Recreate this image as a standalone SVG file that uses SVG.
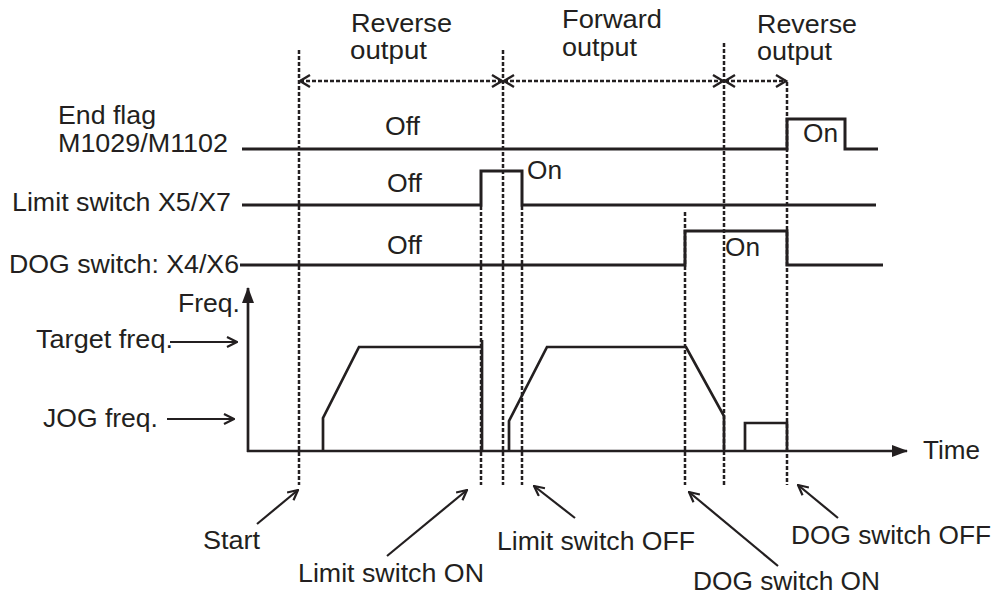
<svg xmlns="http://www.w3.org/2000/svg" width="996" height="598" viewBox="0 0 996 598">
<defs>
<style>
text{font-family:"Liberation Sans",Arial,sans-serif;font-size:25px;fill:#231f20}
.sig{fill:none;stroke:#231f20;stroke-width:3}
.frq{fill:none;stroke:#231f20;stroke-width:2.7;stroke-linejoin:miter}
.dot{fill:none;stroke:#231f20;stroke-width:2.5;stroke-dasharray:4 2}
.span{fill:none;stroke:#231f20;stroke-width:2.4;stroke-dasharray:4 2}
.hd{fill:none;stroke:#231f20;stroke-width:2.4}
.ptr{fill:none;stroke:#231f20;stroke-width:2.2}
</style>
<marker id="open" viewBox="0 0 12 12" refX="11" refY="6" markerWidth="12" markerHeight="12" markerUnits="userSpaceOnUse" orient="auto">
<path d="M1,1 L11,6 L1,11" fill="none" stroke="#231f20" stroke-width="2.2"/>
</marker>
<marker id="fill" viewBox="0 0 16 12" refX="15" refY="6" markerWidth="16" markerHeight="12" markerUnits="userSpaceOnUse" orient="auto">
<path d="M0,0 L16,6 L0,12 Z" fill="#231f20"/>
</marker>
</defs>
<g id="connectors">
<line class="dot" x1="299" y1="50" x2="299" y2="485"/>
<line class="dot" x1="481" y1="206" x2="481" y2="485"/>
<line class="dot" x1="503" y1="50" x2="503" y2="485"/>
<line class="dot" x1="522" y1="206" x2="522" y2="485"/>
<line class="dot" x1="685" y1="212" x2="685" y2="485"/>
<line class="dot" x1="724" y1="43" x2="724" y2="485"/>
<line class="dot" x1="787" y1="82" x2="787" y2="485"/>
<line class="span" x1="300" y1="81" x2="502" y2="81"/>
<path class="hd" d="M310,75 L300,81 L310,87 M492,75 L502,81 L492,87"/>
<line class="span" x1="504" y1="81" x2="723" y2="81"/>
<path class="hd" d="M514,75 L504,81 L514,87 M713,75 L723,81 L713,87"/>
<line class="span" x1="725" y1="81" x2="786" y2="81"/>
<path class="hd" d="M735,75 L725,81 L735,87 M776,75 L786,81 L776,87"/>
<path class="sig" d="M242,149 H787 V119 H845 V149 H878"/>
<path class="sig" d="M242,205 H481 V171 H522 V205 H876"/>
<path class="sig" d="M240,265 H685 V231 H787 V265 H883"/>
<line class="frq" x1="248" y1="452" x2="248" y2="288" marker-end="url(#fill)"/>
<line class="frq" x1="247" y1="451" x2="907" y2="451" marker-end="url(#fill)"/>
<path class="frq" d="M323,451 V418 L359,347 H482 M482,340 V451"/>
<path class="frq" d="M509,451 V421 L547,347 H686 L724,416 V451"/>
<path class="frq" d="M745,451 V423 H787 V451"/>
<line class="ptr" x1="170" y1="342" x2="237" y2="342" marker-end="url(#open)"/>
<line class="ptr" x1="167" y1="419" x2="234" y2="419" marker-end="url(#open)"/>
<line class="ptr" x1="257" y1="524" x2="298" y2="490" marker-end="url(#open)"/>
<line class="ptr" x1="387" y1="556" x2="467" y2="490" marker-end="url(#open)"/>
<line class="ptr" x1="575" y1="518" x2="534" y2="486" marker-end="url(#open)"/>
<line class="ptr" x1="778" y1="566" x2="689" y2="492" marker-end="url(#open)"/>
<line class="ptr" x1="838" y1="518" x2="798" y2="485" marker-end="url(#open)"/>
</g>
<g id="phase-labels">
<text x="351" y="32" textLength="101" lengthAdjust="spacingAndGlyphs">Reverse</text>
<text x="350" y="59" textLength="77" lengthAdjust="spacingAndGlyphs">output</text>
<text x="562" y="28" textLength="100" lengthAdjust="spacingAndGlyphs">Forward</text>
<text x="562" y="56" textLength="75" lengthAdjust="spacingAndGlyphs">output</text>
<text x="757" y="33" textLength="100" lengthAdjust="spacingAndGlyphs">Reverse</text>
<text x="757" y="60" textLength="75" lengthAdjust="spacingAndGlyphs">output</text>
</g>
<g id="signal-end-flag">
<text x="58" y="124" textLength="98" lengthAdjust="spacingAndGlyphs">End flag</text>
<text x="58" y="152" textLength="170" lengthAdjust="spacingAndGlyphs">M1029/M1102</text>
<text x="385" y="135" textLength="35" lengthAdjust="spacingAndGlyphs">Off</text>
<text x="803" y="142" textLength="35" lengthAdjust="spacingAndGlyphs">On</text>
</g>
<g id="signal-limit">
<text x="12" y="211" textLength="219" lengthAdjust="spacingAndGlyphs">Limit switch X5/X7</text>
<text x="387" y="192" textLength="35" lengthAdjust="spacingAndGlyphs">Off</text>
<text x="527" y="179" textLength="35" lengthAdjust="spacingAndGlyphs">On</text>
</g>
<g id="signal-dog">
<text x="9" y="273" textLength="230" lengthAdjust="spacingAndGlyphs">DOG switch: X4/X6</text>
<text x="387" y="254" textLength="35" lengthAdjust="spacingAndGlyphs">Off</text>
<text x="725" y="256" textLength="35" lengthAdjust="spacingAndGlyphs">On</text>
</g>
<g id="freq-graph">
<text x="178" y="312" textLength="62" lengthAdjust="spacingAndGlyphs">Freq.</text>
<text x="36" y="348" textLength="137" lengthAdjust="spacingAndGlyphs">Target freq.</text>
<text x="43" y="427" textLength="115" lengthAdjust="spacingAndGlyphs">JOG freq.</text>
<text x="923" y="459" textLength="57" lengthAdjust="spacingAndGlyphs">Time</text>
</g>
<g id="event-labels">
<text x="203" y="549" textLength="57" lengthAdjust="spacingAndGlyphs">Start</text>
<text x="298" y="582" textLength="186" lengthAdjust="spacingAndGlyphs">Limit switch ON</text>
<text x="497" y="550" textLength="198" lengthAdjust="spacingAndGlyphs">Limit switch OFF</text>
<text x="693" y="590" textLength="187" lengthAdjust="spacingAndGlyphs">DOG switch ON</text>
<text x="791" y="544" textLength="200" lengthAdjust="spacingAndGlyphs">DOG switch OFF</text>
</g>
</svg>
